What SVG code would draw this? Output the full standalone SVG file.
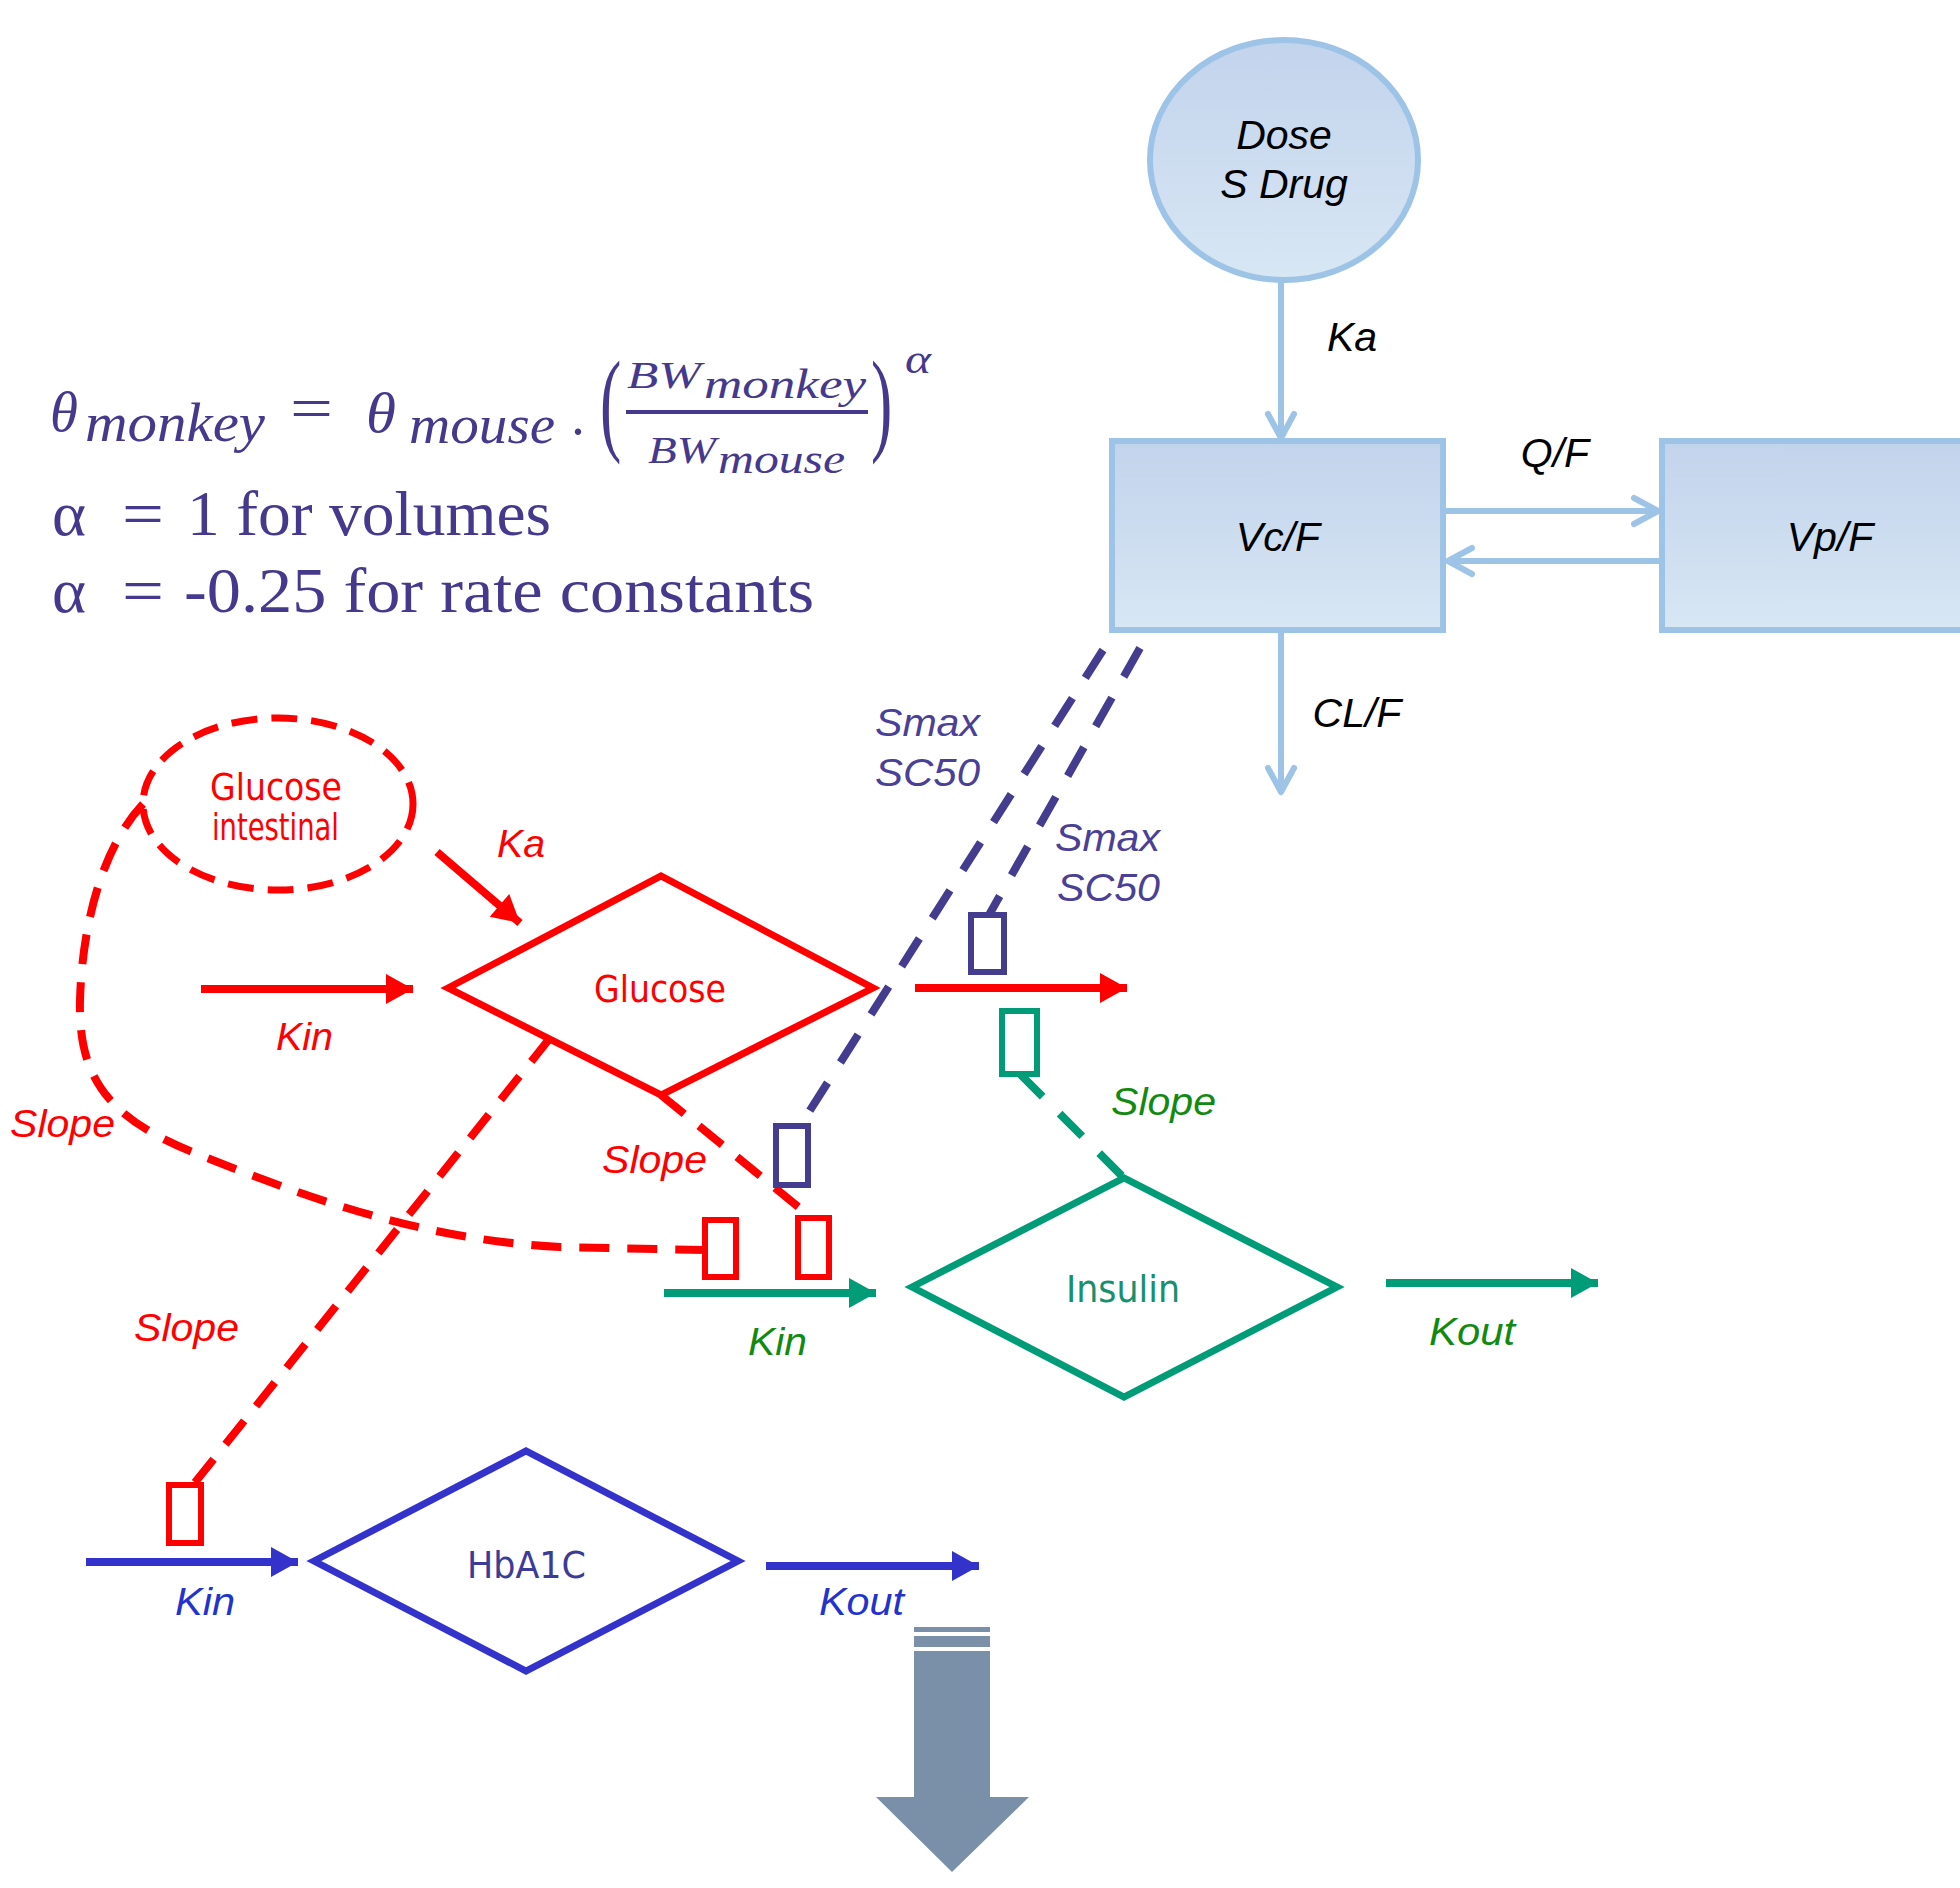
<svg xmlns="http://www.w3.org/2000/svg" width="1960" height="1888" viewBox="0 0 1960 1888">
<defs>
<linearGradient id="gBlue" x1="0" y1="0" x2="0" y2="1">
<stop offset="0" stop-color="#C2D3EC"/>
<stop offset="1" stop-color="#D8E7F4"/>
</linearGradient>
<marker id="chev" markerUnits="userSpaceOnUse" markerWidth="40" markerHeight="40" viewBox="-30 -20 40 40" refX="0" refY="0" orient="auto">
<path d="M-24,-13 L0,0 L-24,13" fill="none" stroke="#9DC3E6" stroke-width="6" stroke-linecap="round" stroke-linejoin="round"/>
</marker>
<marker id="triR" markerUnits="userSpaceOnUse" markerWidth="40" markerHeight="40" viewBox="-34 -20 40 40" refX="0" refY="0" orient="auto">
<path d="M-27,-15 L0,0 L-27,15 Z" fill="#FF0000"/>
</marker>
<marker id="triG" markerUnits="userSpaceOnUse" markerWidth="40" markerHeight="40" viewBox="-34 -20 40 40" refX="0" refY="0" orient="auto">
<path d="M-27,-15 L0,0 L-27,15 Z" fill="#009B77"/>
</marker>
<marker id="triB" markerUnits="userSpaceOnUse" markerWidth="40" markerHeight="40" viewBox="-34 -20 40 40" refX="0" refY="0" orient="auto">
<path d="M-27,-15 L0,0 L-27,15 Z" fill="#3333CC"/>
</marker>
</defs>
<style>
.pk{fill:url(#gBlue);stroke:#9DC3E6;stroke-width:6}
.pkl{fill:none;stroke:#9DC3E6;stroke-width:6}
.blk{font-family:"Liberation Sans",Arial,sans-serif;font-style:italic;font-size:41px;fill:#000;text-anchor:middle}
.lab{font-family:"Liberation Sans",Arial,sans-serif;font-style:italic;font-size:38px}
.nt{font-family:"DejaVu Sans Condensed","Liberation Sans",sans-serif;font-size:38px}
.fm{font-family:"Liberation Serif","Times New Roman",serif;fill:#45398D}
.fi{font-style:italic}
.red{stroke:#FF0000;fill:none}
.grn{stroke:#009B77;fill:none}
.blu{stroke:#3333CC;fill:none}
.pur{stroke:#443C8E;fill:none}
.sol{stroke-width:8}
.dsh{stroke-width:8;stroke-dasharray:30 19}
.box{stroke-width:6;fill:#fff}
</style>

<g id="formula">
<text class="fm fi" x="50" y="431" font-size="56" textLength="28" lengthAdjust="spacingAndGlyphs">θ</text>
<text class="fm fi" x="85" y="441" font-size="54" textLength="180" lengthAdjust="spacingAndGlyphs">monkey</text>
<text class="fm" x="290" y="428" font-size="60" textLength="43" lengthAdjust="spacingAndGlyphs">=</text>
<text class="fm fi" x="366" y="432" font-size="56" textLength="30" lengthAdjust="spacingAndGlyphs">θ</text>
<text class="fm fi" x="409" y="443" font-size="54" textLength="146" lengthAdjust="spacingAndGlyphs">mouse</text>
<text class="fm" x="569" y="450" font-size="54">·</text>
<text class="fm" transform="translate(600,440) scale(1,1.8)" x="0" y="0" font-size="64">(</text>
<text class="fm fi" x="627" y="388" font-size="38" textLength="74" lengthAdjust="spacingAndGlyphs">BW</text>
<text class="fm fi" x="704" y="398" font-size="43" textLength="162" lengthAdjust="spacingAndGlyphs">monkey</text>
<rect x="626" y="410" width="242" height="4" fill="#45398D"/>
<text class="fm fi" x="648" y="463" font-size="38" textLength="68" lengthAdjust="spacingAndGlyphs">BW</text>
<text class="fm fi" x="718" y="473" font-size="43" textLength="127" lengthAdjust="spacingAndGlyphs">mouse</text>
<text class="fm" transform="translate(871,440) scale(1,1.8)" x="0" y="0" font-size="64">)</text>
<text class="fm fi" x="905" y="373" font-size="42" textLength="26" lengthAdjust="spacingAndGlyphs">α</text>
<text class="fm" x="52" y="535" font-size="63" textLength="34" lengthAdjust="spacingAndGlyphs">α</text>
<text class="fm" x="122" y="535" font-size="63" textLength="42" lengthAdjust="spacingAndGlyphs">=</text>
<text class="fm" x="187" y="535" font-size="63" textLength="364" lengthAdjust="spacingAndGlyphs">1 for volumes</text>
<text class="fm" x="52" y="612" font-size="63" textLength="34" lengthAdjust="spacingAndGlyphs">α</text>
<text class="fm" x="122" y="612" font-size="63" textLength="42" lengthAdjust="spacingAndGlyphs">=</text>
<text class="fm" x="184" y="612" font-size="63" textLength="630" lengthAdjust="spacingAndGlyphs">-0.25 for rate constants</text>
</g>

<g id="connectors">
<line class="pkl" x1="1281" y1="280" x2="1281" y2="438" marker-end="url(#chev)"/>
<line class="pkl" x1="1446" y1="511" x2="1658" y2="511" marker-end="url(#chev)"/>
<line class="pkl" x1="1659" y1="561" x2="1448" y2="561" marker-end="url(#chev)"/>
<line class="pkl" x1="1281" y1="633" x2="1281" y2="792" marker-end="url(#chev)"/>
<path class="pur" stroke-width="8" stroke-dasharray="33 24" d="M1103,650 L800,1126"/>
<path class="pur" stroke-width="8" stroke-dasharray="33 24" d="M1140,648 L989,915"/>
<line class="red sol" x1="201" y1="989" x2="413" y2="989" marker-end="url(#triR)"/>
<line class="red sol" x1="437" y1="852" x2="520" y2="923" marker-end="url(#triR)"/>
<line class="red sol" x1="915" y1="988" x2="1127" y2="988" marker-end="url(#triR)"/>
<path class="red" stroke-width="8" stroke-dasharray="30 18" d="M143,804 C100,850 82,930 80,1000 C78,1080 110,1120 200,1155 C300,1195 420,1240 560,1247 L705,1250"/>
<path class="red dsh" d="M661,1095 L812,1218"/>
<path class="red dsh" d="M550,1038 L193,1485"/>
<line class="grn sol" x1="664" y1="1293" x2="876" y2="1293" marker-end="url(#triG)"/>
<line class="grn sol" x1="1386" y1="1283" x2="1598" y2="1283" marker-end="url(#triG)"/>
<path class="grn" stroke-width="8" stroke-dasharray="32 24" d="M1020,1074 L1124,1178"/>
<line class="blu sol" x1="86" y1="1562" x2="298" y2="1562" marker-end="url(#triB)"/>
<line class="blu sol" x1="766" y1="1566" x2="979" y2="1566" marker-end="url(#triB)"/>
</g>

<g id="dose">
<ellipse class="pk" cx="1284" cy="160" rx="134" ry="120"/>
<text class="blk" x="1284" y="149">Dose</text>
<text class="blk" x="1284" y="198">S Drug</text>
</g>
<g id="vc">
<rect class="pk" x="1112" y="441" width="331" height="189"/>
<text class="blk" x="1278" y="551">Vc/F</text>
</g>
<g id="vp">
<rect class="pk" x="1662" y="441" width="330" height="189"/>
<text class="blk" x="1830" y="551">Vp/F</text>
</g>
<g id="pk-labels">
<text class="blk" x="1352" y="351">Ka</text>
<text class="blk" x="1555" y="467">Q/F</text>
<text class="blk" x="1357" y="727">CL/F</text>
</g>

<g id="glucose-intestinal">
<ellipse cx="278" cy="804" rx="135" ry="86" fill="none" stroke="#FF0000" stroke-width="7" stroke-dasharray="26 14"/>
<text class="nt" x="210" y="800" font-size="36" fill="#FF0000" textLength="132" lengthAdjust="spacingAndGlyphs">Glucose</text>
<text class="nt" x="212" y="840" font-size="30" fill="#FF0000" textLength="127" lengthAdjust="spacingAndGlyphs">intestinal</text>
</g>

<g id="glucose">
<polygon points="448,988 661,876 873,988 661,1095" fill="none" stroke="#FF0000" stroke-width="7"/>
<text class="nt" x="594" y="1002" font-size="40" fill="#FF0000" textLength="132" lengthAdjust="spacingAndGlyphs">Glucose</text>
</g>

<g id="insulin">
<polygon points="912,1287 1124,1178 1337,1287 1124,1397" fill="none" stroke="#009B77" stroke-width="7"/>
<text class="nt" x="1066" y="1302" font-size="40" fill="#16906E" textLength="114" lengthAdjust="spacingAndGlyphs">Insulin</text>
</g>

<g id="hba1c">
<polygon points="314,1561 526,1451 738,1561 526,1671" fill="none" stroke="#3333CC" stroke-width="7"/>
<text class="nt" x="467" y="1578" font-size="40" fill="#3C3C96" textLength="119" lengthAdjust="spacingAndGlyphs">HbA1C</text>
</g>

<g id="effect-boxes">
<rect class="pur box" x="776" y="1126" width="32" height="59"/>
<rect class="pur box" x="971" y="915" width="33" height="57"/>
<rect class="grn box" x="1002" y="1011" width="35" height="63"/>
<rect class="red box" x="705" y="1220" width="31" height="57"/>
<rect class="red box" x="798" y="1218" width="31" height="59"/>
<rect class="red box" x="169" y="1485" width="32" height="58"/>
</g>

<g id="labels">
<text class="lab" x="10" y="1137" fill="#FF0000" textLength="105" lengthAdjust="spacingAndGlyphs">Slope</text>
<text class="lab" x="497" y="857" fill="#FF0000" textLength="48" lengthAdjust="spacingAndGlyphs">Ka</text>
<text class="lab" x="276" y="1050" fill="#FF0000" textLength="57" lengthAdjust="spacingAndGlyphs">Kin</text>
<text class="lab" x="602" y="1173" fill="#FF0000" textLength="105" lengthAdjust="spacingAndGlyphs">Slope</text>
<text class="lab" x="134" y="1341" fill="#FF0000" textLength="105" lengthAdjust="spacingAndGlyphs">Slope</text>
<text class="lab" x="748" y="1355" fill="#118A11" textLength="59" lengthAdjust="spacingAndGlyphs">Kin</text>
<text class="lab" x="1111" y="1115" fill="#118A11" textLength="105" lengthAdjust="spacingAndGlyphs">Slope</text>
<text class="lab" x="1429" y="1345" fill="#118A11" textLength="86" lengthAdjust="spacingAndGlyphs">Kout</text>
<text class="lab" x="175" y="1615" fill="#2233CC" textLength="60" lengthAdjust="spacingAndGlyphs">Kin</text>
<text class="lab" x="819" y="1615" fill="#2233CC" textLength="85" lengthAdjust="spacingAndGlyphs">Kout</text>
<text class="lab" x="875" y="736" fill="#4A4096" textLength="105" lengthAdjust="spacingAndGlyphs">Smax</text>
<text class="lab" x="875" y="786" fill="#4A4096" textLength="105" lengthAdjust="spacingAndGlyphs">SC50</text>
<text class="lab" x="1055" y="851" fill="#4A4096" textLength="105" lengthAdjust="spacingAndGlyphs">Smax</text>
<text class="lab" x="1057" y="901" fill="#4A4096" textLength="103" lengthAdjust="spacingAndGlyphs">SC50</text>
</g>

<g id="big-arrow" fill="#7A90A8">
<rect x="914" y="1627" width="76" height="5"/>
<rect x="914" y="1636" width="76" height="11"/>
<polygon points="914,1651 990,1651 990,1797 1029,1797 952,1872 876,1797 914,1797"/>
</g>
</svg>
